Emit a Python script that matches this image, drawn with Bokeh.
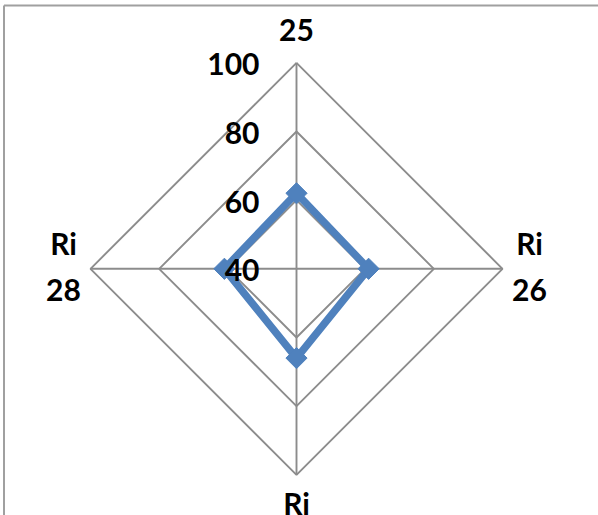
import numpy as np
from bokeh.plotting import figure
from bokeh.models import Range1d, ColumnDataSource
from bokeh.core.properties import value
from bokeh.embed import file_html
from bokeh.resources import INLINE

# ---- data ----
categories = ["Ri\n25", "Ri\n26", "Ri\n27", "Ri\n28"]
series_values = [62, 61, 66, 61]
axis_min = 40
axis_max = 100
tick_values = [40, 60, 80, 100]
tick_labels = ["40", "60", "80", "100"]

# ---- layout ----
W, H = 598, 515
cx, cy = 296, 268.3              # chart centre inside the canvas (px from left / top)
k = 206 / (axis_max - axis_min)  # px per value unit

GRID = "#8c8c8c"
BLUE = "#4F81BD"
FONT = value("Lato")
FSIZE = "30px"

p = figure(width=W, height=H, output_backend="svg", toolbar_location=None,
           x_range=Range1d(-cx / k, (W - cx) / k),
           y_range=Range1d(-(H - cy) / k, cy / k),
           x_axis_type=None, y_axis_type=None,
           min_border=0, outline_line_color=None)
p.grid.visible = False
p.background_fill_color = "white"
p.border_fill_color = "white"

n = len(categories)
theta = np.pi / 2 - 2 * np.pi * np.arange(n) / n
ct, st = np.cos(theta), np.sin(theta)

# rings
for lev in tick_values[1:]:
    r = lev - axis_min
    xs = np.append(r * ct, r * ct[0])
    ys = np.append(r * st, r * st[0])
    p.line(xs, ys, line_color=GRID, line_width=1.9)

# spokes
R = axis_max - axis_min
p.segment(x0=np.zeros(n), y0=np.zeros(n), x1=R * ct, y1=R * st,
          line_color=GRID, line_width=1.9)

# series
rv = np.array(series_values, dtype=float) - axis_min
sx, sy = rv * ct, rv * st
p.line(np.append(sx, sx[0]), np.append(sy, sy[0]), line_color=BLUE,
       line_width=7.5, line_join="round")
p.scatter(sx, sy, marker="square", size=15, angle=np.pi / 4,
          fill_color=BLUE, line_color=BLUE)

# value tick labels on the vertical axis
p.text(x=np.zeros(len(tick_values)), y=np.array(tick_values) - axis_min,
       text=tick_labels, text_align="right", text_baseline="middle",
       x_offset=-37, y_offset=1.5, text_font=FONT, text_font_style="bold",
       text_font_size=FSIZE, text_color="black")

# category labels
src = ColumnDataSource(dict(x=R * ct, y=R * st, text=categories,
                            xo=27 * ct, yo=-54 * st - 3))
p.text(x="x", y="y", text="text", x_offset="xo", y_offset="yo", source=src,
       text_align="center", text_baseline="middle", text_line_height=1.28,
       text_font=FONT, text_font_style="bold", text_font_size=FSIZE,
       text_color="black")

# chart-area border (top and left visible)
x0, x1 = p.x_range.start, p.x_range.end
y0, y1 = p.y_range.start, p.y_range.end
bx = x0 + 3.5 / k
by = y1 - 5 / k
p.segment(x0=[bx, bx], y0=[y0, by], x1=[bx, x1], y1=[by, by],
          line_color="#a0a0a0", line_width=2)

open("out.html", "w").write(file_html(p, INLINE))
